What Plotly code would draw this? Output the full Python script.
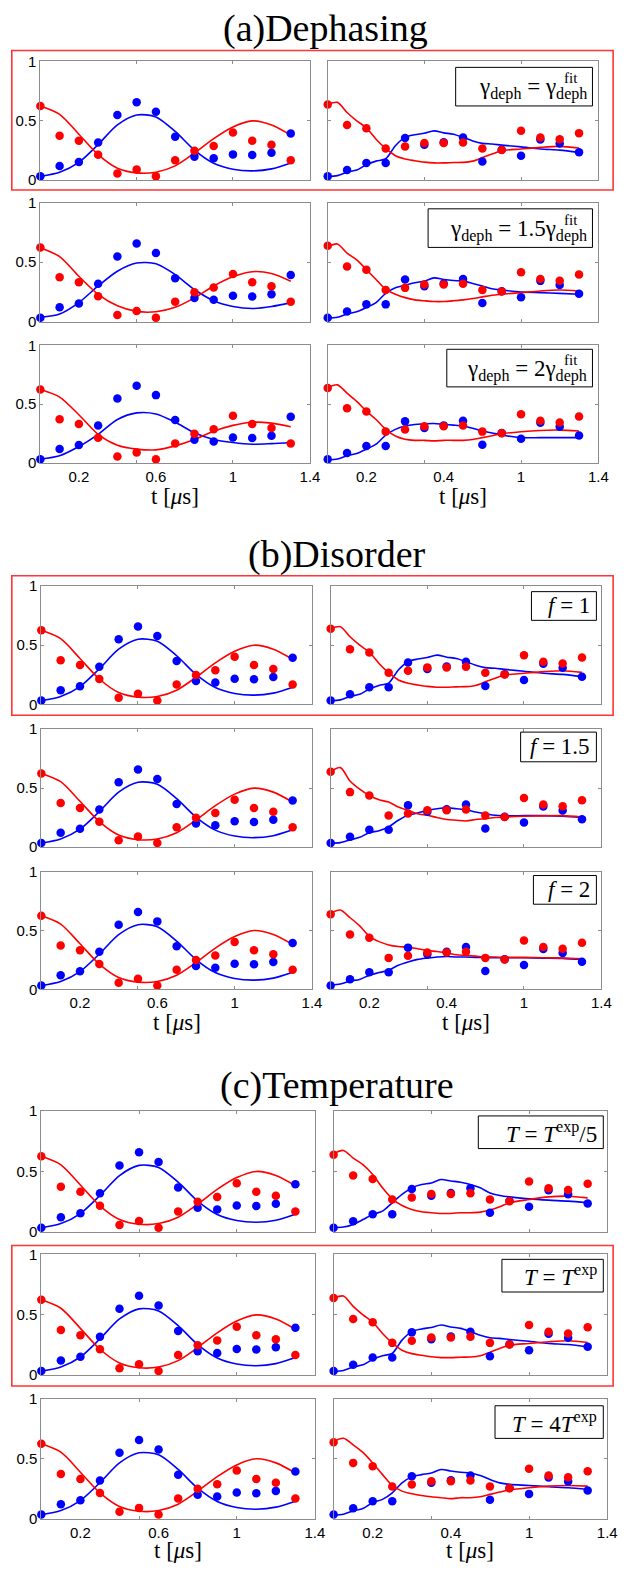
import plotly.graph_objects as go

W, H = 631, 1575

# ---------------- data ----------------
T_DATA = [0.0, 0.1, 0.2, 0.3, 0.4, 0.5, 0.6, 0.7, 0.8, 0.9, 1.0, 1.1, 1.2, 1.3]
# experimental points, left column
L_RED_DATA = [0.624, 0.373, 0.331, 0.214, 0.056, 0.089, 0.033, 0.167, 0.248, 0.287, 0.401, 0.331, 0.298, 0.167]
L_BLUE_DATA = [0.033, 0.120, 0.153, 0.318, 0.549, 0.657, 0.577, 0.365, 0.198, 0.184, 0.217, 0.212, 0.231, 0.393]
# experimental points, right column
R_RED_DATA = [0.638, 0.465, 0.437, 0.267, 0.284, 0.312, 0.312, 0.318, 0.267, 0.253, 0.415, 0.359, 0.345, 0.396]
R_BLUE_DATA = [0.033, 0.086, 0.145, 0.145, 0.354, 0.298, 0.320, 0.359, 0.156, 0.255, 0.206, 0.343, 0.309, 0.234]

# simulated curves, left column (sampled every 0.1)
T_CL = [0.0, 0.1, 0.2, 0.3, 0.4, 0.5, 0.6, 0.7, 0.8, 0.9, 1.0, 1.1, 1.2, 1.3]
A1L_RED = [0.624, 0.554, 0.387, 0.214, 0.100, 0.061, 0.067, 0.120, 0.228, 0.350, 0.448, 0.499, 0.465, 0.380]
A1L_BLUE = [0.033, 0.067, 0.150, 0.300, 0.465, 0.549, 0.532, 0.410, 0.253, 0.142, 0.092, 0.078, 0.095, 0.145]
A2L_RED = [0.623, 0.548, 0.382, 0.230, 0.133, 0.086, 0.083, 0.120, 0.200, 0.300, 0.377, 0.420, 0.405, 0.340]
A2L_BLUE = [0.036, 0.064, 0.160, 0.300, 0.424, 0.493, 0.487, 0.396, 0.270, 0.175, 0.127, 0.110, 0.127, 0.160]
A3L_RED = [0.624, 0.560, 0.410, 0.244, 0.151, 0.118, 0.112, 0.146, 0.200, 0.270, 0.320, 0.347, 0.339, 0.308]
A3L_BLUE = [0.034, 0.062, 0.140, 0.244, 0.370, 0.426, 0.417, 0.347, 0.258, 0.200, 0.174, 0.160, 0.165, 0.174]

# simulated curves, right column
T_CR = [0.0, 0.05, 0.1, 0.15, 0.2, 0.25, 0.3, 0.35, 0.4, 0.45, 0.5, 0.55, 0.6, 0.65, 0.7,
        0.75, 0.8, 0.85, 0.9, 1.0, 1.1, 1.2, 1.3]
A1R_RED = [0.638, 0.655, 0.570, 0.500, 0.440, 0.345, 0.267, 0.206, 0.178, 0.164, 0.152, 0.145, 0.145,
           0.148, 0.150, 0.160, 0.190, 0.220, 0.248, 0.262, 0.276, 0.284, 0.270]
A1R_BLUE = [0.030, 0.038, 0.067, 0.085, 0.130, 0.160, 0.180, 0.290, 0.360, 0.382, 0.395, 0.415, 0.398,
            0.387, 0.360, 0.330, 0.310, 0.304, 0.295, 0.280, 0.262, 0.253, 0.234]
A2R_RED = [0.632, 0.654, 0.576, 0.520, 0.438, 0.355, 0.271, 0.230, 0.202, 0.183, 0.175, 0.169, 0.169,
           0.175, 0.183, 0.194, 0.208, 0.222, 0.230, 0.244, 0.258, 0.266, 0.258]
A2R_BLUE = [0.028, 0.036, 0.064, 0.083, 0.119, 0.160, 0.238, 0.285, 0.305, 0.327, 0.341, 0.368, 0.355,
            0.346, 0.341, 0.321, 0.300, 0.277, 0.266, 0.249, 0.244, 0.238, 0.230]
A3R_RED = [0.641, 0.664, 0.594, 0.524, 0.440, 0.370, 0.286, 0.230, 0.202, 0.193, 0.193, 0.188, 0.193,
           0.193, 0.193, 0.200, 0.216, 0.232, 0.249, 0.266, 0.277, 0.280, 0.272]
A3R_BLUE = [0.025, 0.034, 0.062, 0.081, 0.118, 0.160, 0.238, 0.286, 0.314, 0.328, 0.333, 0.336, 0.328,
            0.322, 0.314, 0.295, 0.272, 0.255, 0.238, 0.216, 0.216, 0.216, 0.216]
B2R_RED = [0.640, 0.673, 0.560, 0.490, 0.436, 0.400, 0.380, 0.338, 0.310, 0.282, 0.268, 0.249, 0.232,
           0.226, 0.220, 0.232, 0.240, 0.249, 0.254, 0.260, 0.263, 0.265, 0.254]
B2R_BLUE = [0.031, 0.036, 0.059, 0.081, 0.120, 0.137, 0.170, 0.226, 0.268, 0.288, 0.310, 0.324, 0.332,
            0.324, 0.316, 0.296, 0.282, 0.268, 0.265, 0.265, 0.265, 0.260, 0.249]
B3R_RED = [0.645, 0.673, 0.609, 0.539, 0.450, 0.405, 0.377, 0.363, 0.358, 0.344, 0.330, 0.321, 0.310,
           0.293, 0.288, 0.282, 0.274, 0.274, 0.271, 0.271, 0.268, 0.265, 0.260]
B3R_BLUE = [0.036, 0.045, 0.070, 0.084, 0.120, 0.142, 0.162, 0.204, 0.232, 0.254, 0.265, 0.274, 0.279,
            0.274, 0.274, 0.271, 0.271, 0.268, 0.268, 0.268, 0.265, 0.263, 0.254]
C1R_RED = [0.646, 0.673, 0.610, 0.555, 0.473, 0.363, 0.272, 0.217, 0.184, 0.165, 0.157, 0.151, 0.151,
           0.157, 0.157, 0.162, 0.179, 0.206, 0.239, 0.266, 0.288, 0.294, 0.280]
C1R_BLUE = [0.033, 0.038, 0.060, 0.100, 0.143, 0.170, 0.239, 0.308, 0.363, 0.390, 0.404, 0.432, 0.420,
            0.409, 0.390, 0.363, 0.321, 0.300, 0.288, 0.272, 0.261, 0.253, 0.239]
C3R_RED = [0.644, 0.671, 0.616, 0.552, 0.464, 0.367, 0.276, 0.229, 0.207, 0.193, 0.182, 0.174, 0.166,
           0.174, 0.174, 0.182, 0.202, 0.221, 0.238, 0.257, 0.271, 0.276, 0.271]
C3R_BLUE = [0.028, 0.036, 0.064, 0.083, 0.133, 0.160, 0.215, 0.298, 0.348, 0.367, 0.381, 0.410, 0.397,
            0.387, 0.381, 0.359, 0.326, 0.298, 0.285, 0.276, 0.265, 0.257, 0.243]

X_TICKVALS = [0.2, 0.6, 1.0, 1.4]
X_TICKTEXT_L = ["0.2", "0.6", "1", "1.4"]
X_TICKTEXT_R = ["0.2", "0.4", "1", "1.4"]
Y_TICKVALS = [0, 0.5, 1]
Y_TICKTEXT = ["0", "0.5", "1"]

SECTION_TITLES = ["(a)Dephasing", "(b)Disorder", "(c)Temperature"]
LEGEND_TEXTS = [
    ["γ<sub>deph</sub> = γ<sub>deph</sub>", "γ<sub>deph</sub> = 1.5γ<sub>deph</sub>",
     "γ<sub>deph</sub> = 2γ<sub>deph</sub>"],
    ["<i>f</i> = 1", "<i>f</i> = 1.5", "<i>f</i> = 2"],
    ["<i>T</i> = <i>T</i><sup>exp</sup>/5", "<i>T</i> = <i>T</i><sup>exp</sup>",
     "<i>T</i> = 4<i>T</i><sup>exp</sup>"],
]
CURVES = [
    [((A1L_RED, A1L_BLUE), (A1R_RED, A1R_BLUE)),
     ((A2L_RED, A2L_BLUE), (A2R_RED, A2R_BLUE)),
     ((A3L_RED, A3L_BLUE), (A3R_RED, A3R_BLUE))],
    [((A1L_RED, A1L_BLUE), (A1R_RED, A1R_BLUE)),
     ((A1L_RED, A1L_BLUE), (B2R_RED, B2R_BLUE)),
     ((A1L_RED, A1L_BLUE), (B3R_RED, B3R_BLUE))],
    [((A1L_RED, A1L_BLUE), (C1R_RED, C1R_BLUE)),
     ((A1L_RED, A1L_BLUE), (A1R_RED, A1R_BLUE)),
     ((A1L_RED, A1L_BLUE), (C3R_RED, C3R_BLUE))],
]

# ---------------- layout (pixel geometry) ----------------
SECTIONS = [
    dict(rows=[(53, 173), (196, 316), (340, 459)], L=(41, 315), R=(333, 608),
         title=(331, 20), xlabel_y=493, box=(12, 42, 623, 183)),
    dict(rows=[(583, 703), (728, 847), (872, 991)], L=(42, 317), R=(336, 611),
         title=(342, 551), xlabel_y=1025, box=(12, 573, 623, 714)),
    dict(rows=[(1114, 1236), (1259, 1381), (1405, 1526)], L=(42, 320), R=(339, 617),
         title=(342, 1088), xlabel_y=1558, box=(12, 1250, 623, 1392)),
]
LEGEND_BOXES = [
    [(463, 602, 59, 98), (435, 602, 202, 241), (454, 602, 344, 382)],
    [(540, 606, 589, 618), (529, 606, 731, 761), (542, 606, 876, 905)],
    [(486, 613, 1119, 1152), (510, 613, 1264, 1297), (503, 613, 1412, 1445)],
]

RED = "#ff0000"
BLUE = "#0000ff"
FRAME = "#8c8c8c"
SERIF = "Liberation Serif"
SANS = "Liberation Sans"


def px(x):
    return x / W


def py(y):
    return 1 - y / H


fig = go.Figure()
shapes = []
annotations = []
layout_axes = {}
k = 0
for s, sec in enumerate(SECTIONS):
    for r, (yt, yb) in enumerate(sec["rows"]):
        for c, col in enumerate(["L", "R"]):
            k += 1
            x0, x1 = sec[col]
            xname = "x" if k == 1 else f"x{k}"
            yname = "y" if k == 1 else f"y{k}"
            bottom = (r == 2)
            layout_axes["xaxis" if k == 1 else f"xaxis{k}"] = dict(
                domain=[px(x0), px(x1)], anchor=yname, range=[0, 1.4],
                showline=True, linecolor=FRAME, linewidth=1, mirror="ticks",
                ticks="", tickvals=X_TICKVALS,
                ticktext=X_TICKTEXT_L if c == 0 else X_TICKTEXT_R,
                showticklabels=bottom, showgrid=False, zeroline=False,
                tickfont=dict(family=SANS, size=15, color="black"),
                minor=dict(tickmode="array", tickvals=[0.5, 1.0], ticks="inside",
                           ticklen=3, tickcolor=FRAME, showgrid=False),
                fixedrange=True,
            )
            layout_axes["yaxis" if k == 1 else f"yaxis{k}"] = dict(
                domain=[py(yb), py(yt)], anchor=xname, range=[0, 1],
                showline=True, linecolor=FRAME, linewidth=1, mirror="ticks",
                ticks="inside", ticklen=3, tickcolor=FRAME,
                tickvals=Y_TICKVALS, ticktext=Y_TICKTEXT,
                showticklabels=(c == 0), showgrid=False, zeroline=False,
                tickfont=dict(family=SANS, size=15, color="black"),
                fixedrange=True,
            )
            red_c, blue_c = CURVES[s][r][c]
            tc = T_CL if c == 0 else T_CR
            rd = L_RED_DATA if c == 0 else R_RED_DATA
            bd = L_BLUE_DATA if c == 0 else R_BLUE_DATA
            fig.add_trace(go.Scatter(x=tc, y=blue_c, mode="lines", line=dict(color=BLUE, width=1.6, shape="spline", smoothing=0.8),
                                     xaxis=xname, yaxis=yname, showlegend=False, cliponaxis=False, hoverinfo="skip"))
            fig.add_trace(go.Scatter(x=tc, y=red_c, mode="lines", line=dict(color=RED, width=1.6, shape="spline", smoothing=0.8),
                                     xaxis=xname, yaxis=yname, showlegend=False, cliponaxis=False, hoverinfo="skip"))
            fig.add_trace(go.Scatter(x=T_DATA, y=bd, mode="markers", marker=dict(color=BLUE, size=8.5),
                                     xaxis=xname, yaxis=yname, showlegend=False, cliponaxis=False))
            fig.add_trace(go.Scatter(x=T_DATA, y=rd, mode="markers", marker=dict(color=RED, size=8.5),
                                     xaxis=xname, yaxis=yname, showlegend=False, cliponaxis=False))

        # legend box for the right panel of this row
        bx0, bx1, by0, by1 = LEGEND_BOXES[s][r]
        shapes.append(dict(type="rect", xref="paper", yref="paper", x0=px(bx0), x1=px(bx1),
                           y0=py(by1), y1=py(by0), line=dict(color="black", width=1), fillcolor="white", layer="above"))
        annotations.append(dict(xref="paper", yref="paper", x=px(bx1 - 4), y=py((by0 + by1) / 2 + (2 if s == 0 else 0)),
                                xanchor="right", yanchor="middle", showarrow=False,
                                text=LEGEND_TEXTS[s][r], font=dict(family=SERIF, size=23, color="black")))
        if s == 0:
            annotations.append(dict(xref="paper", yref="paper", x=px(bx1 - 22), y=py(by0 + 11),
                                    xanchor="center", yanchor="middle", showarrow=False,
                                    text="fit", font=dict(family=SERIF, size=15, color="black")))

    # section title
    tx, ty = sec["title"]
    annotations.append(dict(xref="paper", yref="paper", x=px(tx), y=py(ty), xanchor="center", yanchor="middle",
                            showarrow=False, text=SECTION_TITLES[s], font=dict(family=SERIF, size=38, color="black")))
    # x labels
    for col in ["L", "R"]:
        x0, x1 = sec[col]
        annotations.append(dict(xref="paper", yref="paper", x=px((x0 + x1) / 2), y=py(sec["xlabel_y"]),
                                xanchor="center", yanchor="middle", showarrow=False,
                                text="t [<i>μ</i>s]", font=dict(family=SERIF, size=23, color="black")))
    # red highlight box
    rx0, ry0, rx1, ry1 = sec["box"]
    shapes.append(dict(type="rect", xref="paper", yref="paper", x0=px(rx0), x1=px(rx1), y0=py(ry1), y1=py(ry0),
                       line=dict(color="#ff3535", width=1.6), fillcolor="rgba(0,0,0,0)", layer="above"))

fig.update_layout(**layout_axes)
fig.update_layout(width=W, height=H, autosize=False, margin=dict(l=0, r=0, t=0, b=0),
                  paper_bgcolor="white", plot_bgcolor="white", showlegend=False,
                  shapes=shapes, annotations=annotations)
fig.write_html("out.html", config={"displayModeBar": False})
